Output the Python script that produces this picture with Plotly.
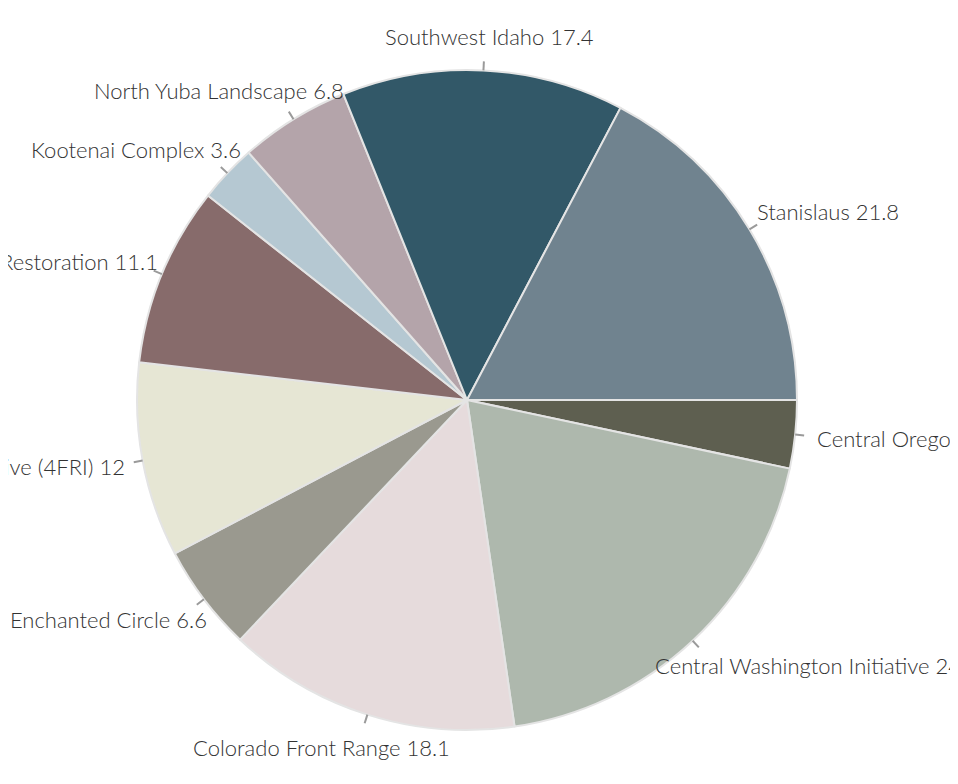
import math
import plotly.graph_objects as go

labels = [
    "Central Oregon",
    "Central Washington Initiative",
    "Colorado Front Range",
    "Enchanted Circle",
    "Four Forest Restoration Initiative (4FRI)",
    "San Carlos Apache Tribal Restoration",
    "Kootenai Complex",
    "North Yuba Landscape",
    "Southwest Idaho",
    "Stanislaus",
]
values = [4.2, 24.4, 18.1, 6.6, 12, 11.1, 3.6, 6.8, 17.4, 21.8]
colors = [
    "#5e5f50", "#aeb8ad", "#e6dbdc", "#9a998f", "#e6e6d4",
    "#876b6b", "#b5c8d2", "#b4a4aa", "#325868", "#70838f",
]

W, H = 958, 784
ML, MR, MT, MB = 0, 40, 62, 62
FS = 22
FONT = dict(family="Lato, Open Sans, sans-serif", size=FS, color="#333333", weight=300)

fig = go.Figure(go.Pie(
    labels=labels,
    values=values,
    sort=False,
    direction="clockwise",
    rotation=90,
    automargin=False,
    marker=dict(colors=colors, line=dict(color="#e4e4e4", width=2)),
    textinfo="none",
    showlegend=False,
    hoverinfo="label+value",
))


def text_width(t):
    # rough em-width estimate per character class
    em = 0.0
    for ch in t:
        if ch in "iljI.,:;!|'":
            em += 0.25
        elif ch in "tfr() ":
            em += 0.33
        elif ch in "mwMW":
            em += 0.78
        elif ch.isupper():
            em += 0.62
        elif ch.isdigit():
            em += 0.53
        else:
            em += 0.51
    return em * FS * 1.05


# label placement around the pie, derived from slice mid-angles
pw = W - ML - MR
ph = H - MT - MB
rad = min(pw, ph) / 2
total = sum(values)
annotations = []
shapes = []
cum = 0.0
for lab, v in zip(labels, values):
    ang = math.radians(90 + (cum + v / 2) / total * 360)
    cum += v
    s, c = math.sin(ang), math.cos(ang)

    def pt(r):
        return 0.5 + r * s / pw, 0.5 + r * c / ph

    x0, y0 = pt(rad)
    x1, y1 = pt(rad + 9)
    shapes.append(dict(type="line", xref="paper", yref="paper",
                       x0=x0, y0=y0, x1=x1, y1=y1,
                       line=dict(color="#9a9a9a", width=2)))
    text = f"{lab} {v:g}"
    w = text_width(text)
    h = 1.3 * FS
    if s > 0.5:
        xa, xs = "left", -(1 - s) / 2 * w
    elif s < -0.5:
        xa, xs = "right", (1 + s) / 2 * w
    else:
        xa, xs = "center", s * w / 2
    ax, ay = pt(rad + 20)
    annotations.append(dict(x=ax, y=ay, xref="paper", yref="paper", text=text,
                            showarrow=False, xanchor=xa, yanchor="middle",
                            xshift=xs, yshift=c * h / 2, font=FONT))

fig.update_layout(
    width=W, height=H,
    margin=dict(l=ML, r=MR, t=MT, b=MB),
    paper_bgcolor="white",
    annotations=annotations,
    shapes=shapes,
)
fig.write_html("out.html")
